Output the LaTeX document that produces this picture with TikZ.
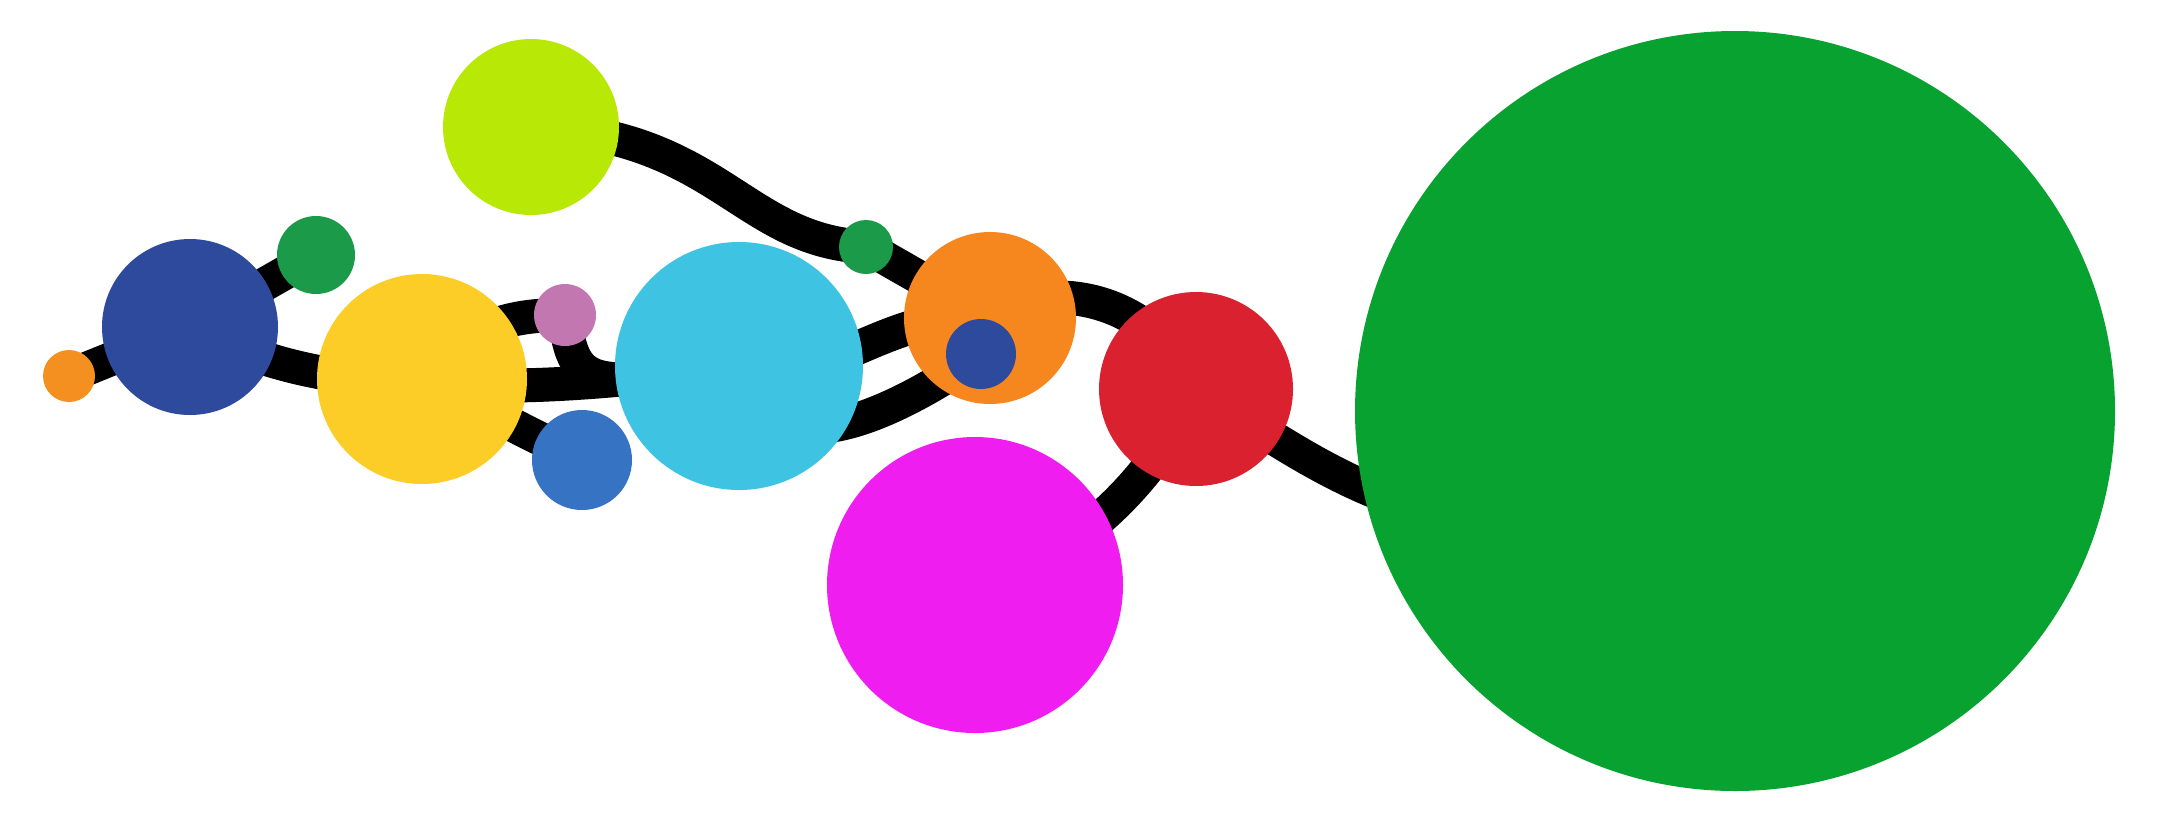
\documentclass[tikz,border=0pt]{standalone}
\usetikzlibrary{backgrounds}
\definecolor{corS}{RGB}{244,144,32}
\definecolor{cor}{RGB}{246,135,31}
\definecolor{cdb}{RGB}{46,74,156}
\definecolor{cgr}{RGB}{27,155,74}
\definecolor{clime}{RGB}{184,232,5}
\definecolor{cyel}{RGB}{252,205,38}
\definecolor{cpink}{RGB}{194,119,176}
\definecolor{cbm}{RGB}{54,116,195}
\definecolor{ccyan}{RGB}{62,196,226}
\definecolor{cred}{RGB}{218,33,48}
\definecolor{cmag}{RGB}{239,29,239}
\definecolor{cbig}{RGB}{7,162,47}
\begin{document}
\begin{tikzpicture}[x=1pt,y=-1pt,
  dot/.style={circle,inner sep=0pt,outer sep=0pt,draw=none},
  link/.style={line width=34pt,black}]
\useasboundingbox (0,0) rectangle (2159,820);
\node[dot,fill=corS,minimum size=52pt] (os) at (69,376) {};
\node[dot,fill=cdb,minimum size=176pt] (db) at (190,327) {};
\node[dot,fill=cgr,minimum size=78pt] (g1) at (316,255) {};
\node[dot,fill=clime,minimum size=176pt] (lime) at (531,127) {};
\node[dot,fill=cyel,minimum size=210pt] (yel) at (422,379) {};
\node[dot,fill=cpink,minimum size=62pt] (pink) at (565,315) {};
\node[dot,fill=cbm,minimum size=100pt] (bm) at (582,460) {};
\node[dot,fill=ccyan,minimum size=248pt] (cy) at (739,366) {};
\node[dot,fill=cgr,minimum size=54pt] (g2) at (866,247) {};
\node[dot,fill=cor,minimum size=172pt] (or) at (990,318) {};
\node[dot,fill=cdb,minimum size=70pt] (dbs) at (981,354) {};
\node[dot,fill=cred,minimum size=194pt] (red) at (1196,389) {};
\node[dot,fill=cmag,minimum size=296pt] (mag) at (975,585) {};
\node[dot,fill=cbig,minimum size=760pt] (big) at (1735,411) {};
\begin{scope}[on background layer]
\draw[link] (os.center) -- (db.center);
\draw[link] (db.center) -- (g1.center);
\draw[link] (db.center) .. controls (240,355) and (330,385) .. (yel.center);
\draw[link] (yel.center) .. controls (470,320) and (520,315) .. (pink.center);
\draw[link] (pink.center) .. controls (572,395) and (600,385) .. (cy.center);
\draw[link] (yel.center) .. controls (500,395) and (650,378) .. (cy.center);
\draw[link] (yel.center) -- (bm.center);
\draw[link] (lime.center) .. controls (720,135) and (740,240) .. (g2.center);
\draw[link] (g2.center) -- (or.center);
\draw[link] (cy.center) .. controls (830,390) and (880,310) .. (or.center);
\draw[link] (cy.center) .. controls (770,480) and (900,410) .. (dbs.center);
\draw[link] (or.center) .. controls (1040,280) and (1150,290) .. (red.center);
\draw[link] (mag.center) .. controls (1080,560) and (1160,470) .. (red.center);
\draw[link] (red.center) .. controls (1330,470) and (1500,620) .. (big.center);
\end{scope}
\end{tikzpicture}
\end{document}
